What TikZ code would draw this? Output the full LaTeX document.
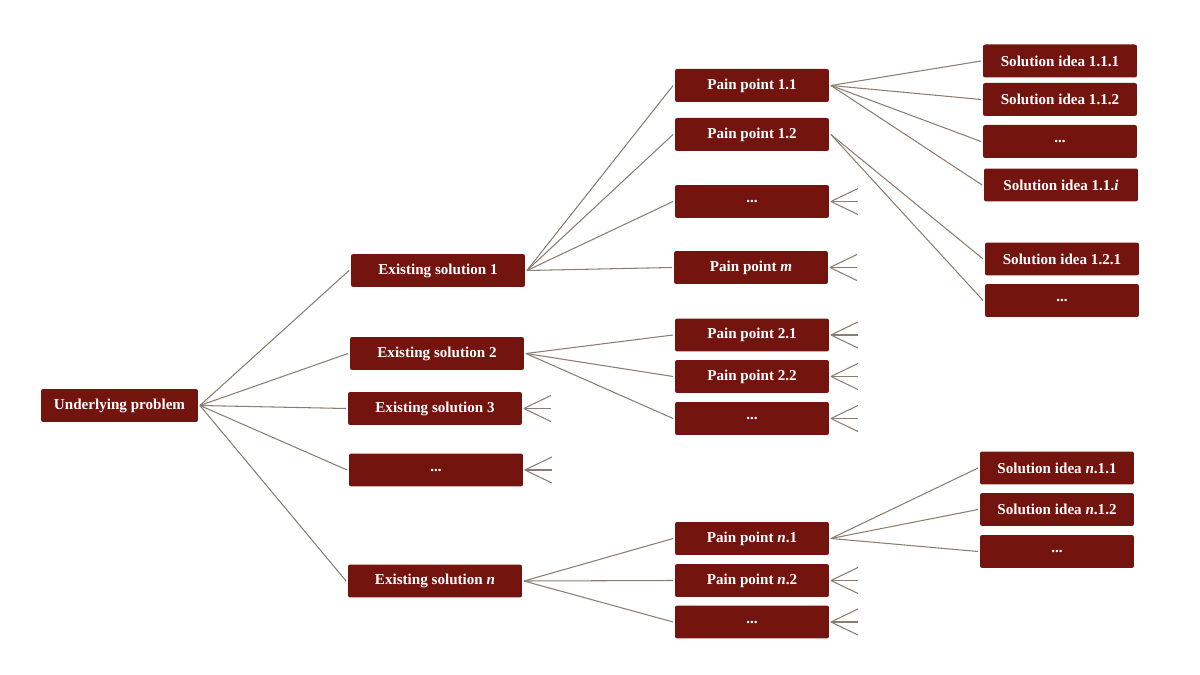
\documentclass[tikz,border=0pt]{standalone}
\usepackage{fontspec}
\setmainfont{Liberation Serif}
\definecolor{boxred}{HTML}{74140F}
\definecolor{linec}{HTML}{8B7D70}
\begin{document}
\begin{tikzpicture}[x=0.02cm,y=-0.02cm,
  box/.style={fill=boxred, rounded corners=1.2pt, text=white, inner sep=0pt,
    minimum width=3.08cm, minimum height=0.66cm, outer sep=1.1pt,
    font=\fontsize{8.6}{10}\selectfont\bfseries},
  wide/.style={minimum width=3.48cm},
  rootbox/.style={minimum width=3.14cm},
  conn/.style={draw=linec, line width=0.6pt}]
\useasboundingbox (0,0) rectangle (1200,675);

% root
\node[box,rootbox] (root) at (119.5,405.5) {Underlying problem};

% existing solutions
\node[box,wide] (es1) at (438,270.5) {Existing solution 1};
\node[box,wide] (es2) at (437,353.5) {Existing solution 2};
\node[box,wide] (es3) at (435,408.5) {Existing solution 3};
\node[box,wide] (esd) at (436,470) {...};
\node[box,wide] (esn) at (435,581) {Existing solution \textit{n}};

% pain points
\node[box] (p11) at (752,85.5) {Pain point 1.1};
\node[box] (p12) at (752,134.5) {Pain point 1.2};
\node[box] (p1d) at (752,201.5) {...};
\node[box] (p1m) at (751,267.5) {Pain point \textit{m}};
\node[box] (p21) at (752,335) {Pain point 2.1};
\node[box] (p22) at (752,376.5) {Pain point 2.2};
\node[box] (p2d) at (752,418.5) {...};
\node[box] (pn1) at (752,538.5) {Pain point \textit{n}.1};
\node[box] (pn2) at (752,580.5) {Pain point \textit{n}.2};
\node[box] (pnd) at (752,622) {...};

% solution ideas
\node[box] (s111) at (1060,61) {Solution idea 1.1.1};
\node[box] (s112) at (1060,99.5) {Solution idea 1.1.2};
\node[box] (s11d) at (1060,141.5) {...};
\node[box] (s11i) at (1061,185) {Solution idea 1.1.\textit{i}};
\node[box] (s121) at (1062,259) {Solution idea 1.2.1};
\node[box] (s12d) at (1062,300.5) {...};
\node[box] (sn11) at (1057,468) {Solution idea \textit{n}.1.1};
\node[box] (sn12) at (1057,509.5) {Solution idea \textit{n}.1.2};
\node[box] (sn1d) at (1057,551.5) {...};

% connectors
\foreach \c in {es1,es2,es3,esd,esn} \draw[conn] (root.east) -- (\c.west);
\foreach \c in {p11,p12,p1d,p1m} \draw[conn] (es1.east) -- (\c.west);
\foreach \c in {p21,p22,p2d} \draw[conn] (es2.east) -- (\c.west);
\foreach \c in {pn1,pn2,pnd} \draw[conn] (esn.east) -- (\c.west);
\foreach \c in {s111,s112,s11d,s11i} \draw[conn] (p11.east) -- (\c.west);
\foreach \c in {s121,s12d} \draw[conn] (p12.east) -- (\c.west);
\foreach \c in {sn11,sn12,sn1d} \draw[conn] (pn1.east) -- (\c.west);

% stubs for unexpanded nodes
\foreach \c in {es3,esd,p1d,p1m,p21,p22,p2d,pn2,pnd} {
  \draw[conn] (\c.east) -- ++(27,-13);
  \draw[conn] (\c.east) -- ++(27,0);
  \draw[conn] (\c.east) -- ++(27,13);
}
\end{tikzpicture}
\end{document}
